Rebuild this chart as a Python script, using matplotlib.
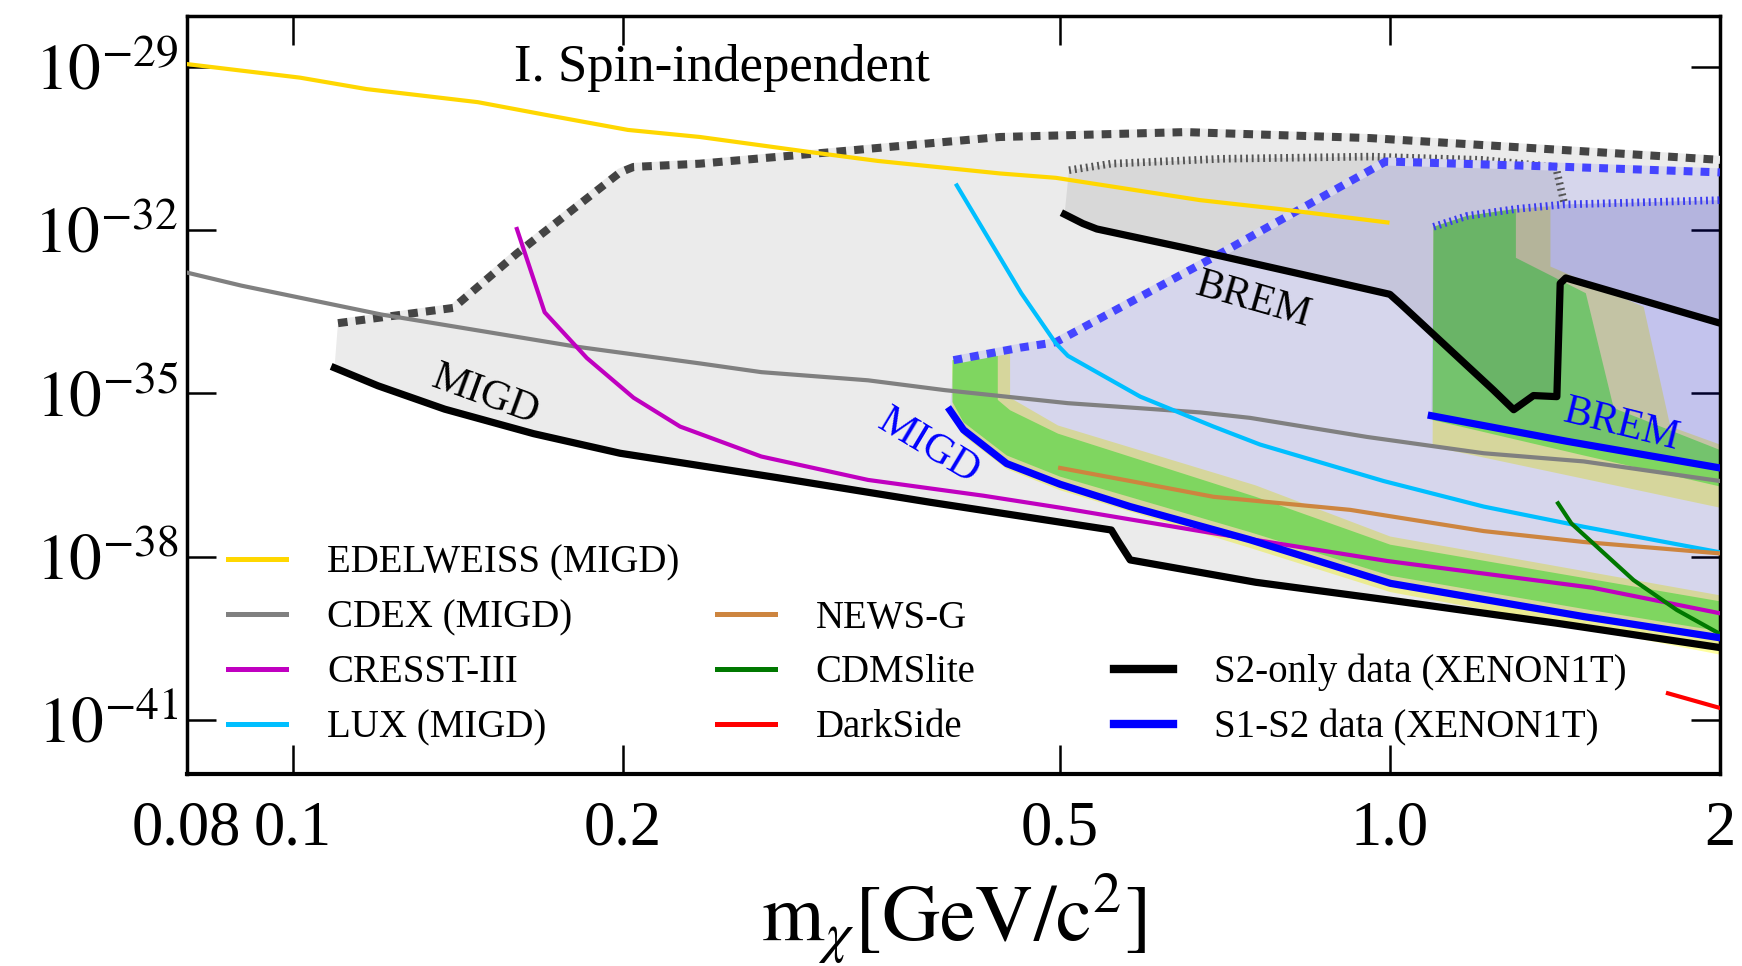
import numpy as np
import matplotlib
matplotlib.use("Agg")
import matplotlib.pyplot as plt
from matplotlib.lines import Line2D
from matplotlib.ticker import NullLocator

plt.rcParams['font.family'] = ['Liberation Serif', 'DejaVu Serif']
plt.rcParams['mathtext.fontset'] = 'stix'

# ---------------- data (mass in GeV/c^2, log10 of cross-section in cm^2) ----------------
edelweiss_m = [0.080, 0.1015, 0.1167, 0.1474, 0.1696, 0.2020, 0.2350, 0.2969, 0.3414, 0.4412, 0.4960, 0.6715, 0.7905, 0.995]
edelweiss_log = [-28.95, -29.20, -29.41, -29.65, -29.88, -30.16, -30.29, -30.57, -30.73, -30.96, -31.04, -31.45, -31.61, -31.86]

cdex_m = [0.080, 0.0897, 0.1203, 0.1810, 0.2350, 0.2673, 0.3344, 0.3927, 0.5087, 0.6715, 0.7458, 0.9530, 1.218, 1.502, 2.0]
cdex_log = [-32.78, -33.02, -33.55, -34.14, -34.45, -34.61, -34.76, -34.94, -35.18, -35.35, -35.45, -35.80, -36.10, -36.25, -36.61]

cresst_m = [0.1600, 0.1696, 0.1853, 0.2044, 0.2254, 0.2673, 0.3344, 0.4261, 0.5005, 0.6715, 0.995, 1.530, 2.0]
cresst_log = [-31.98, -33.51, -34.35, -35.08, -35.61, -36.16, -36.59, -36.88, -37.10, -37.53, -38.08, -38.57, -39.04]

lux_m = [0.4029, 0.4613, 0.4960, 0.5087, 0.5922, 0.6906, 0.7615, 0.9869, 1.218, 1.502, 2.0]
lux_log = [-31.18, -33.16, -34.08, -34.31, -35.06, -35.61, -35.94, -36.61, -37.08, -37.45, -37.92]

newsg_m = [0.5005, 0.5798, 0.6906, 0.9202, 1.218, 1.502, 2.0]
newsg_log = [-36.37, -36.61, -36.90, -37.14, -37.53, -37.73, -37.94]

cdmslite_m = [1.4235, 1.464, 1.668, 1.827, 2.0]
cdmslite_log = [-37.02, -37.39, -38.43, -38.98, -39.42]

darkside_m = [1.793, 2.0]
darkside_log = [-40.51, -40.78]

s2_migd_m = [0.1091, 0.1195, 0.1375, 0.1657, 0.1987, 0.2768, 0.3809, 0.5573, 0.5651, 0.5798, 0.7545, 1.001, 1.417, 2.0]
s2_migd_log = [-34.53, -34.86, -35.29, -35.74, -36.10, -36.55, -37.00, -37.51, -37.71, -38.06, -38.47, -38.80, -39.22, -39.67]

s2_brem_m = [0.5052, 0.5250, 0.5406, 0.6514, 1.0, 1.022, 1.243, 1.297, 1.352, 1.420, 1.430, 1.447, 2.0]
s2_brem_log = [-31.71, -31.88, -31.98, -32.33, -33.18, -33.35, -34.94, -35.30, -35.04, -35.06, -32.98, -32.88, -33.71]

s1s2_migd_m = [0.3972, 0.4086, 0.4474, 0.5005, 0.5798, 0.7458, 1.001, 1.502, 2.0]
s1s2_migd_log = [-35.31, -35.67, -36.29, -36.67, -37.08, -37.69, -38.49, -39.10, -39.49]

s1s2_brem_m = [1.091, 1.45, 2.0]
s1s2_brem_log = [-35.41, -35.88, -36.37]

# upper edges of the excluded regions
s2_migd_top_m = [0.1099, 0.1400, 0.1600, 0.1987, 0.2044, 0.2350, 0.3089, 0.4412, 0.6514, 0.9596, 1.495, 2.0]
s2_migd_top_log = [-33.71, -33.43, -32.43, -30.94, -30.84, -30.78, -30.57, -30.29, -30.20, -30.31, -30.55, -30.71]

s1s2_migd_top_m = [0.4001, 0.4603, 0.4960, 0.6922, 0.9915, 1.450, 2.0]
s1s2_migd_top_log = [-34.39, -34.16, -34.06, -32.49, -30.74, -30.84, -30.94]

s2_brem_top_m = [0.5099, 0.5573, 0.7036, 0.9596, 1.212, 1.417, 1.443]
s2_brem_top_log = [-30.90, -30.78, -30.69, -30.65, -30.71, -30.84, -31.53]
s2_brem_top_end_m = [2.0]
s2_brem_top_end_log = [-31.45]

s1s2_brem_top_m = [1.096, 1.176, 1.306, 1.440, 2.0]
s1s2_brem_top_log = [-31.94, -31.74, -31.61, -31.53, -31.45]

# sensitivity bands (closed outlines)
migd_green_m = [0.3993, 0.4391, 0.4391, 0.4506, 0.4983, 0.7545, 1.001, 2.0, 2.0, 1.502, 1.001, 0.7458, 0.5005, 0.4474, 0.4086, 0.3993]
migd_green_log = [-34.39, -34.20, -35.12, -35.31, -35.74, -36.90, -37.78, -38.82, -39.37, -38.96, -38.35, -37.55, -36.53, -36.14, -35.53, -35.16]
migd_yellow_m = [0.3993, 0.4506, 0.4506, 0.4983, 0.7545, 1.001, 2.0, 2.0, 1.502, 1.001, 0.7458, 0.5005, 0.4474, 0.4086, 0.3993]
migd_yellow_log = [-34.39, -34.16, -35.08, -35.59, -36.69, -37.63, -38.71, -39.80, -39.31, -38.65, -37.84, -36.78, -36.39, -35.78, -35.41]

brem_green_m = [1.096, 1.176, 1.303, 1.303, 1.509, 1.600, 2.0, 2.0, 1.502, 1.094]
brem_green_log = [-31.94, -31.74, -31.61, -32.51, -33.16, -35.27, -36.04, -36.71, -36.14, -35.49]
brem_yellow_m = [1.096, 1.176, 1.306, 1.401, 1.401, 1.704, 1.802, 2.0, 2.0, 1.094]
brem_yellow_log = [-31.94, -31.74, -31.61, -31.57, -32.67, -33.41, -35.61, -35.94, -37.10, -35.98]

xtick_vals = [0.08, 0.1, 0.2, 0.5, 1.0, 2.0]
xtick_labels = ['0.08', '0.1', '0.2', '0.5', '1.0', '2']
ytick_exps = [-29, -32, -35, -38, -41]

legend1_labels = ['EDELWEISS (MIGD)', 'CDEX (MIGD)', 'CRESST-III', 'LUX (MIGD)']
legend2_labels = ['NEWS-G', 'CDMSlite', 'DarkSide']
legend3_labels = ['S2-only data (XENON1T)', 'S1-S2 data (XENON1T)']

# ---------------- figure ----------------
def S(a):
    return 10.0 ** np.asarray(a, dtype=float)

fig = plt.figure(figsize=(17.42, 9.66), dpi=100)
ax = fig.add_axes([0.10718, 0.19834, 0.88019, 0.7855])
ax.set_xscale('log')
ax.set_yscale('log')
ax.set_xlim(0.08, 2.0)
ax.set_ylim(1e-42, 10 ** -28.06)

# bands
ax.fill(migd_yellow_m, S(migd_yellow_log), color='#ffffa0', lw=0, zorder=1)
ax.fill(migd_green_m, S(migd_green_log), color='#98ff58', lw=0, zorder=1.1)
ax.fill(brem_yellow_m, S(brem_yellow_log), color='#ffffa0', lw=0, zorder=1)
ax.fill(brem_green_m, S(brem_green_log), color='#98ff58', lw=0, zorder=1.1)

# translucent excluded regions
ax.fill(s2_migd_top_m + s2_migd_m[::-1], S(s2_migd_top_log + s2_migd_log[::-1]),
        color='k', alpha=0.08, lw=0, zorder=2)
ax.fill(s2_brem_top_m + s2_brem_top_end_m + s2_brem_m[::-1],
        S(s2_brem_top_log + s2_brem_top_end_log + s2_brem_log[::-1]),
        color='k', alpha=0.08, lw=0, zorder=2)
ax.fill(s1s2_migd_top_m + s1s2_migd_m[::-1], S(s1s2_migd_top_log + s1s2_migd_log[::-1]),
        color='b', alpha=0.085, lw=0, zorder=2)
ax.fill(s1s2_brem_top_m + s1s2_brem_m[::-1], S(s1s2_brem_top_log + s1s2_brem_log[::-1]),
        color='b', alpha=0.085, lw=0, zorder=2)

# dotted upper boundaries
ax.plot(s2_migd_top_m, S(s2_migd_top_log), color='#444444', lw=5.8,
        ls=(0, (1.2, 1.0)), gapcolor='#ebebeb', dash_capstyle='butt', zorder=3)
ax.plot(s1s2_migd_top_m, S(s1s2_migd_top_log), color='#4444ff', lw=5.8,
        ls=(0, (1.1, 1.0)), gapcolor='#d7d7ed', dash_capstyle='butt', zorder=3.1)
ax.plot(s2_brem_top_m, S(s2_brem_top_log), color='#555555', lw=5.5,
        ls=(0, (0.25, 0.5)), dash_capstyle='butt', zorder=3)
ax.plot(s1s2_brem_top_m, S(s1s2_brem_top_log), color='#3a3af0', lw=5.5,
        ls=(0, (0.25, 0.5)), dash_capstyle='butt', zorder=3)

# experiment lines
lines1 = [(edelweiss_m, edelweiss_log, '#FFD700'),
          (cdex_m, cdex_log, '#808080'),
          (cresst_m, cresst_log, '#c000c0'),
          (lux_m, lux_log, '#00BFFF')]
lines2 = [(newsg_m, newsg_log, '#CD853F'),
          (cdmslite_m, cdmslite_log, '#007800'),
          (darkside_m, darkside_log, '#ff0000')]
for m, l, c in lines1 + lines2:
    ax.plot(m, S(l), color=c, lw=3.0, zorder=4)

ax.plot(s2_migd_m, S(s2_migd_log), color='k', lw=5.2, zorder=5)
ax.plot(s2_brem_m, S(s2_brem_log), color='k', lw=5.2, zorder=5)
ax.plot(s1s2_migd_m, S(s1s2_migd_log), color='#0000ff', lw=5.2, zorder=5)
ax.plot(s1s2_brem_m, S(s1s2_brem_log), color='#0000ff', lw=5.2, zorder=5)

# annotations
ax.text(0.2137, 0.9137, 'I. Spin-independent', transform=ax.transAxes, fontsize=38,
        ha='left', va='baseline', zorder=6)
ann = [(0.1949, 0.4992, 'MIGD', 'k', -20),
       (0.4841, 0.4319, 'MIGD', '#0000ff', -31),
       (0.6956, 0.6252, 'BREM', 'k', -16),
       (0.9355, 0.4597, 'BREM', '#0000ff', -14)]
for x, y, t, c, r in ann:
    ax.text(x, y, t, transform=ax.transAxes, fontsize=30, color=c, rotation=r,
            ha='center', va='center', rotation_mode='anchor', zorder=6)

# legends
common = dict(frameon=False, fontsize=28, handlelength=1.5, handletextpad=1.05,
              labelspacing=0.46, borderpad=0, borderaxespad=0, loc='lower left')
h1 = [Line2D([], [], color=c, lw=3.6) for _, _, c in lines1]
h2 = [Line2D([], [], color=c, lw=3.6) for _, _, c in lines2]
h3 = [Line2D([], [], color='k', lw=6), Line2D([], [], color='#0000ff', lw=6)]
leg1 = ax.legend(h1, legend1_labels, bbox_to_anchor=(0.0268, 0.037), **common)
ax.add_artist(leg1)
leg2 = ax.legend(h2, legend2_labels, bbox_to_anchor=(0.3456, 0.037), **common)
ax.add_artist(leg2)
leg3 = ax.legend(h3, legend3_labels, bbox_to_anchor=(0.6050, 0.037), **common)

# ticks
ax.set_xticks(xtick_vals)
ax.set_xticklabels(xtick_labels)
ax.set_yticks([10.0 ** e for e in ytick_exps])
ax.set_yticklabels([r'$10^{%d}$' % e for e in ytick_exps])
ax.xaxis.set_minor_locator(NullLocator())
ax.yaxis.set_minor_locator(NullLocator())
ax.tick_params(which='major', direction='in', length=21, width=1.8, top=True, right=True)
ax.tick_params(axis='x', pad=19, labelsize=45)
ax.tick_params(axis='y', pad=6, labelsize=47)
for s in ax.spines.values():
    s.set_linewidth(2.5)
ax.spines['bottom'].set_linewidth(3.0)

ax.set_xlabel(r'$\mathrm{m}_{\chi}[\mathrm{GeV/c}^{2}]$', fontsize=58, labelpad=9)

fig.savefig('out.png', dpi=100)
